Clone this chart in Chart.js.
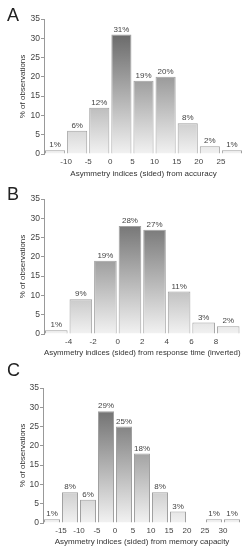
<!DOCTYPE html>
<html>
<head>
<meta charset="utf-8">
<script src="https://cdn.jsdelivr.net/npm/chart.js@4"></script>
<style>
  html, body { margin:0; padding:0; background:#fff; }
  body { width:247px; height:550px; position:relative; overflow:hidden; font-family:"Liberation Sans", Arial, sans-serif; }
  .wrap { position:absolute; left:0; width:247px; }
  .letter { position:absolute; left:7px; font-size:18px; line-height:18px; color:#222; font-family:"Liberation Sans", Arial, sans-serif; }
</style>
</head>
<body>
<div class="wrap" style="top:0;height:180px"><canvas id="cA" width="247" height="180"></canvas></div>
<div class="wrap" style="top:180px;height:180px"><canvas id="cB" width="247" height="180"></canvas></div>
<div class="wrap" style="top:360px;height:190px"><canvas id="cC" width="247" height="190"></canvas></div>
<div class="letter" style="top:6px">A</div>
<div class="letter" style="top:185px">B</div>
<div class="letter" style="top:361px">C</div>
<script>
// ---- Data ----
// Left edges of each histogram bin and the bin width
const binsA = [-15, -10, -5, 0, 5, 10, 15, 20, 25];
const widthA = 5;
const valuesA = [1, 6, 12, 31, 19, 20, 8, 2, 1];
const ticksA = [-10, -5, 0, 5, 10, 15, 20, 25];
const titleA = "Asymmetry indices (sided) from accuracy";

const binsB = [-6, -4, -2, 0, 2, 4, 6, 8];
const widthB = 2;
const valuesB = [1, 9, 19, 28, 27, 11, 3, 2];
const ticksB = [-4, -2, 0, 2, 4, 6, 8];
const titleB = "Asymmetry indices (sided) from response time (inverted)";

const binsC = [-20, -15, -10, -5, 0, 5, 10, 15, 20, 25, 30];
const widthC = 5;
const valuesC = [1, 8, 6, 29, 25, 18, 8, 3, 0, 1, 1];
const ticksC = [-15, -10, -5, 0, 5, 10, 15, 20, 25, 30];
const titleC = "Asymmetry indices (sided) from memory capacity";

const yTicks = [0, 5, 10, 15, 20, 25, 30, 35];
const yTitle = "% of observations";

const FONT = "'Liberation Sans', Arial, sans-serif";

const valueLabels = {
  id: 'valueLabels',
  afterDatasetsDraw(chart) {
    const c = chart.ctx;
    const meta = chart.getDatasetMeta(0);
    c.save();
    c.font = "8px " + FONT;
    c.fillStyle = '#444';
    c.textAlign = 'center';
    c.textBaseline = 'bottom';
    meta.data.forEach((el, i) => {
      const v = chart.data.datasets[0].data[i].y;
      if (v > 0) c.fillText(v + '%', el.x, el.y - 1);
    });
    c.restore();
  }
};

function makeChart(id, bins, w, values, tickList, title, opts) {
  const data = bins.map((b, i) => ({ x: b + w / 2, y: values[i] }));
  return new Chart(document.getElementById(id), {
    type: 'bar',
    data: { datasets: [{
      data: data,
      backgroundColor: (ctx) => {
        const chart = ctx.chart;
        if (!chart.chartArea) return '#ccc';
        const ys = chart.scales.y;
        const g = chart.ctx.createLinearGradient(0, ys.getPixelForValue(32), 0, ys.getPixelForValue(0));
        g.addColorStop(0, '#666666');
        g.addColorStop(1, '#f2f2f2');
        return g;
      },
      borderColor: '#a0a0a0',
      borderWidth: (ctx) => (ctx.raw && ctx.raw.y > 0 ? 1 : 0),
      barPercentage: opts.barPct,
      categoryPercentage: 1
    }]},
    options: {
      responsive: false,
      animation: false,
      events: [],
      layout: { padding: { top: opts.top, right: opts.right, left: 0, bottom: 0 } },
      plugins: { legend: { display: false }, tooltip: { enabled: false } },
      scales: {
        x: {
          type: 'linear',
          offset: false,
          min: bins[0],
          max: bins[bins.length - 1] + w,
          afterFit: (s) => { s.height = opts.xh; },
          grid: { display: false, drawTicks: false },
          border: { display: false },
          ticks: {
            stepSize: w,
            autoSkip: false,
            maxRotation: 0,
            padding: 3,
            color: '#444',
            font: { size: 8, family: FONT },
            callback: (v) => (tickList.includes(v) ? String(v) : '')
          },
          title: {
            display: true,
            text: title,
            color: '#333',
            font: { size: 8, family: FONT },
            padding: { top: 0, bottom: opts.tpb }
          }
        },
        y: {
          min: 0,
          max: 35,
          afterFit: (s) => { s.width = opts.yw; },
          afterBuildTicks: (s) => { s.ticks = yTicks.map(v => ({ value: v })); },
          grid: { display: true, drawOnChartArea: false, drawTicks: true, tickLength: 3, color: '#999' },
          border: { display: true, color: '#999' },
          ticks: {
            padding: 1,
            color: '#444',
            font: { size: 8.5, family: FONT }
          },
          title: {
            display: true,
            text: yTitle,
            color: '#333',
            font: { size: 8, family: FONT },
            padding: { top: opts.ytp, bottom: 0 }
          }
        }
      }
    },
    plugins: [valueLabels]
  });
}

makeChart('cA', binsA, widthA, valuesA, ticksA, titleA, { top: 19, right: 4, xh: 26, yw: 44, barPct: 0.91, tpb: 1, ytp: 18 });
makeChart('cB', binsB, widthB, valuesB, ticksB, titleB, { top: 19, right: 6.5, xh: 26, yw: 44, barPct: 0.92, tpb: 2, ytp: 18 });
makeChart('cC', binsC, widthC, valuesC, ticksC, titleC, { top: 28, right: 6, xh: 27, yw: 43, barPct: 0.89, tpb: 3, ytp: 18 });
</script>
</body>
</html>
